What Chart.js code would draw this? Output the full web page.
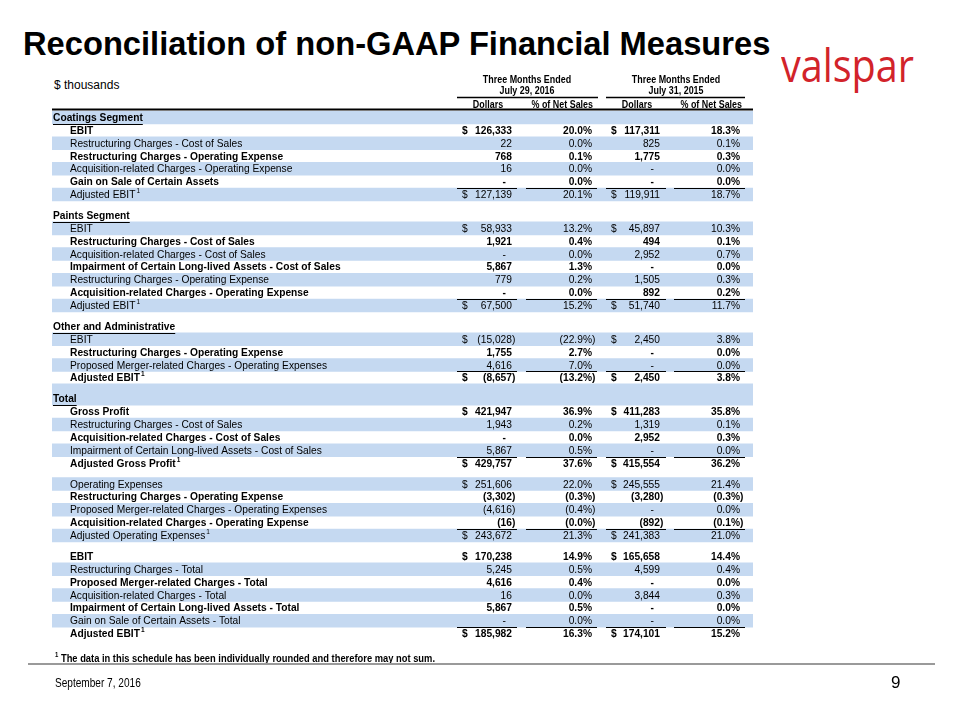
<!DOCTYPE html>
<html>
<head>
<meta charset="utf-8">
<script src="https://cdn.jsdelivr.net/npm/chart.js@4.4.0/dist/chart.umd.min.js"></script>
<style>
  html, body { margin: 0; padding: 0; background: #fff; }
  body { width: 960px; height: 720px; position: relative; overflow: hidden;
         font-family: "Liberation Sans", Arial, sans-serif; color: #000; }
  #chart { position: absolute; left: 0; top: 0; }
  .title { position: absolute; left: 23px; top: 25px; font-size: 33px; font-weight: bold; white-space: nowrap;
           transform: scaleX(0.99); transform-origin: left top; }
  .logo { position: absolute; left: 781px; top: 33px; font-family: "Open Sans", sans-serif; font-size: 46px;
          color: #d2232a; white-space: nowrap; transform: scaleX(0.86); transform-origin: left top; }
  .units { position: absolute; left: 54px; top: 78px; font-size: 12px; }
  .footnote { position: absolute; left: 55px; top: 651px; font-size: 11px; font-weight: bold; white-space: nowrap;
              transform: scaleX(0.85); transform-origin: left top; }
  .footnote sup { font-size: 7px; }
  .rule { position: absolute; left: 28px; top: 663px; width: 907px; height: 2px; background: #9a9a9a; }
  .date { position: absolute; left: 55px; top: 676px; font-size: 12px; transform: scaleX(0.84); transform-origin: left top; }
  .page { position: absolute; left: 891px; top: 673px; font-size: 17px; }
</style>
</head>
<body>
<div class="title">Reconciliation of non-GAAP Financial Measures</div>
<div class="logo">valspar</div>
<div class="units">$ thousands</div>
<canvas id="chart" width="960" height="720"></canvas>
<div class="footnote"><sup>1</sup> The data in this schedule has been individually rounded and therefore may not sum.</div>
<div class="rule"></div>
<div class="date">September 7, 2016</div>
<div class="page">9</div>
<script>
// table rows (head = section title, first = first line with $, total = adjusted line)
const rowLabels = [
  'Coatings Segment', 'EBIT', 'Restructuring Charges - Cost of Sales', 'Restructuring Charges - Operating Expense',
  'Acquisition-related Charges - Operating Expense', 'Gain on Sale of Certain Assets', 'Adjusted EBIT',
  'Paints Segment', 'EBIT', 'Restructuring Charges - Cost of Sales', 'Acquisition-related Charges - Cost of Sales',
  'Impairment of Certain Long-lived Assets - Cost of Sales', 'Restructuring Charges - Operating Expense',
  'Acquisition-related Charges - Operating Expense', 'Adjusted EBIT',
  'Other and Administrative', 'EBIT', 'Restructuring Charges - Operating Expense',
  'Proposed Merger-related Charges - Operating Expenses', 'Adjusted EBIT',
  'Total', 'Gross Profit', 'Restructuring Charges - Cost of Sales', 'Acquisition-related Charges - Cost of Sales',
  'Impairment of Certain Long-lived Assets - Cost of Sales', 'Adjusted Gross Profit',
  'Operating Expenses', 'Restructuring Charges - Operating Expense', 'Proposed Merger-related Charges - Operating Expenses',
  'Acquisition-related Charges - Operating Expense', 'Adjusted Operating Expenses',
  'EBIT', 'Restructuring Charges - Total', 'Proposed Merger-related Charges - Total', 'Acquisition-related Charges - Total',
  'Impairment of Certain Long-lived Assets - Total', 'Gain on Sale of Certain Assets - Total', 'Adjusted EBIT'
];
const rowKinds = [
  'head', 'first', 'item', 'item', 'item', 'item', 'total',
  'head', 'first', 'item', 'item', 'item', 'item', 'item', 'total',
  'head', 'first', 'item', 'item', 'total',
  'head', 'first', 'item', 'item', 'item', 'total',
  'first', 'item', 'item', 'item', 'total',
  'first', 'item', 'item', 'item', 'item', 'item', 'total'
];
const dollars2016 = [
  null, 126333, 22, 768, 16, 0, 127139,
  null, 58933, 1921, 0, 5867, 779, 0, 67500,
  null, -15028, 1755, 4616, -8657,
  null, 421947, 1943, 0, 5867, 429757,
  251606, -3302, -4616, -16, 243672,
  170238, 5245, 4616, 16, 5867, 0, 185982
];
const pct2016 = [
  null, 20.0, 0.0, 0.1, 0.0, 0.0, 20.1,
  null, 13.2, 0.4, 0.0, 1.3, 0.2, 0.0, 15.2,
  null, -22.9, 2.7, 7.0, -13.2,
  null, 36.9, 0.2, 0.0, 0.5, 37.6,
  22.0, -0.3, -0.4, -0.0, 21.3,
  14.9, 0.5, 0.4, 0.0, 0.5, 0.0, 16.3
];
const dollars2015 = [
  null, 117311, 825, 1775, 0, 0, 119911,
  null, 45897, 494, 2952, 0, 1505, 892, 51740,
  null, 2450, 0, 0, 2450,
  null, 411283, 1319, 2952, 0, 415554,
  245555, -3280, 0, -892, 241383,
  165658, 4599, 0, 3844, 0, 0, 174101
];
const pct2015 = [
  null, 18.3, 0.1, 0.3, 0.0, 0.0, 18.7,
  null, 10.3, 0.1, 0.7, 0.0, 0.3, 0.2, 11.7,
  null, 3.8, 0.0, 0.0, 3.8,
  null, 35.8, 0.1, 0.3, 0.0, 36.2,
  21.4, -0.3, 0.0, -0.1, 21.0,
  14.4, 0.4, 0.0, 0.3, 0.0, 0.0, 15.2
];
const periodTitles = ['Three Months Ended', 'Three Months Ended'];
const periodDates = ['July 29, 2016', 'July 31, 2015'];
const columnTitles = ['Dollars', '% of Net Sales', 'Dollars', '% of Net Sales'];

// layout
const GAP = 0.63;            // blank space after each block, in row units
const TABLE_LEFT = 52, TABLE_RIGHT = 753, TABLE_TOP = 111, TABLE_BOTTOM = 640;
const FONT = '"Liberation Sans", Arial, sans-serif';
const SX = 0.93;             // horizontal squeeze of the table text
const BAND = '#c5d9f1';

// row position on the y scale
const rowPos = [];
let p = 0;
rowKinds.forEach((k, i) => {
  rowPos.push(p);
  p += 1;
  if (k === 'total' && i < rowKinds.length - 1) p += GAP;
});
const yMin = -0.5, yMax = p - 0.5;
const unitPx = (TABLE_BOTTOM - TABLE_TOP) / (yMax - yMin);

const shadedRows = rowLabels.map((_, i) => i).filter(i => i % 2 === 0);
const shadedGaps = shadedRows.filter(i => i > 0 && rowKinds[i] === 'head');

function fmtDollar(v) {
  if (v === 0) return '-';
  const s = Math.abs(v).toLocaleString('en-US');
  return v < 0 ? '(' + s + ')' : s;
}
function fmtPct(v) {
  const s = Math.abs(v).toFixed(1) + '%';
  return (v < 0 || Object.is(v, -0)) ? '(' + s + ')' : s;
}

function squeezed(ctx, text, x, y, align, sx = SX) {
  const w = ctx.measureText(text).width * sx;
  let left = x;
  if (align === 'right') left = x - w;
  if (align === 'center') left = x - w / 2;
  ctx.save();
  ctx.translate(left, y);
  ctx.scale(sx, 1);
  ctx.textAlign = 'left';
  ctx.fillText(text, 0, 0);
  ctx.restore();
  return w;
}

// numbers: digits right aligned, closing bracket hangs out
function drawNumber(ctx, text, right, y) {
  if (text === '-') { squeezed(ctx, text, right - 6, y, 'right'); return; }
  let r = right;
  if (text.endsWith(')')) r += ctx.measureText(')').width * SX;
  squeezed(ctx, text, r, y, 'right');
}

const cols = [
  { sign: 462, num: 512, pct: 592, lineD: [457, 517], lineP: [526, 597] },
  { sign: 611, num: 660, pct: 740, lineD: [606, 666], lineP: [674, 745] }
];

const tablePlugin = {
  id: 'tableText',
  afterDatasetsDraw(chart) {
    const { ctx, scales: { x, y } } = chart;
    ctx.save();
    ctx.fillStyle = '#000';
    ctx.strokeStyle = '#000';
    ctx.textBaseline = 'middle';

    // column headers
    ctx.font = 'bold 10.5px ' + FONT;
    [527, 676].forEach((cx, k) => {
      squeezed(ctx, periodTitles[k], x.getPixelForValue(cx), y.getPixelForValue(-2.92), 'center', 0.85);
      squeezed(ctx, periodDates[k], x.getPixelForValue(cx), y.getPixelForValue(-2.03), 'center', 0.85);
    });
    ctx.lineWidth = 1.5;
    [[457, 598], [606, 745]].forEach(([a, b]) => {
      const ly = y.getPixelForValue(-1.55);
      ctx.beginPath(); ctx.moveTo(x.getPixelForValue(a), ly); ctx.lineTo(x.getPixelForValue(b), ly); ctx.stroke();
    });
    squeezed(ctx, columnTitles[0], x.getPixelForValue(488), y.getPixelForValue(-0.98), 'center', 0.85);
    squeezed(ctx, columnTitles[1], x.getPixelForValue(593), y.getPixelForValue(-0.98), 'right', 0.85);
    squeezed(ctx, columnTitles[2], x.getPixelForValue(637), y.getPixelForValue(-0.98), 'center', 0.85);
    squeezed(ctx, columnTitles[3], x.getPixelForValue(742), y.getPixelForValue(-0.98), 'right', 0.85);
    ctx.lineWidth = 2;
    ctx.beginPath();
    ctx.moveTo(x.getPixelForValue(TABLE_LEFT), y.top - 1.5);
    ctx.lineTo(x.getPixelForValue(TABLE_RIGHT), y.top - 1.5);
    ctx.stroke();

    // rows
    rowLabels.forEach((label, i) => {
      const kind = rowKinds[i];
      const py = y.getPixelForValue(rowPos[i]) + 0.5;
      const bold = kind === 'head' || i % 2 === 1;
      ctx.font = (bold ? 'bold ' : '') + '11px ' + FONT;
      if (kind === 'head') {
        const lx = x.getPixelForValue(53);
        const w = squeezed(ctx, label, lx, py, 'left');
        ctx.lineWidth = 1;
        ctx.beginPath(); ctx.moveTo(lx, Math.round(py + 6) + 0.5); ctx.lineTo(lx + w, Math.round(py + 6) + 0.5); ctx.stroke();
        return;
      }
      const lx = x.getPixelForValue(70);
      const w = squeezed(ctx, label, lx, py, 'left');
      if (kind === 'total') {
        ctx.font = (bold ? 'bold ' : '') + '7px ' + FONT;
        squeezed(ctx, '1', lx + w + 1, py - 4, 'left');
        ctx.font = (bold ? 'bold ' : '') + '11px ' + FONT;
        // single rule above the adjusted line
        const ly = Math.round(y.getPixelForValue(rowPos[i] - 0.5)) + 0.5;
        ctx.lineWidth = 1;
        cols.forEach(c => {
          [c.lineD, c.lineP].forEach(([a, b]) => {
            ctx.beginPath(); ctx.moveTo(x.getPixelForValue(a), ly); ctx.lineTo(x.getPixelForValue(b), ly); ctx.stroke();
          });
        });
      }
      const vals = [[dollars2016[i], pct2016[i]], [dollars2015[i], pct2015[i]]];
      vals.forEach(([d, pc], k) => {
        const c = cols[k];
        if (kind === 'first' || kind === 'total') squeezed(ctx, '$', x.getPixelForValue(c.sign), py, 'left');
        drawNumber(ctx, fmtDollar(d), x.getPixelForValue(c.num), py);
        drawNumber(ctx, fmtPct(pc), x.getPixelForValue(c.pct), py);
      });
    });
    ctx.restore();
  }
};

new Chart(document.getElementById('chart'), {
  type: 'bar',
  data: {
    datasets: [
      {
        data: shadedRows.map(i => ({ x: [TABLE_LEFT, TABLE_RIGHT], y: rowPos[i] })),
        backgroundColor: BAND,
        borderWidth: 0,
        barThickness: unitPx,
        grouped: false
      },
      {
        data: shadedGaps.map(i => ({ x: [TABLE_LEFT, TABLE_RIGHT], y: rowPos[i] - 0.5 - GAP / 2 })),
        backgroundColor: BAND,
        borderWidth: 0,
        barThickness: unitPx * GAP + 1,
        grouped: false
      }
    ]
  },
  options: {
    indexAxis: 'y',
    responsive: false,
    animation: false,
    layout: { padding: { left: TABLE_LEFT, right: 960 - TABLE_RIGHT, top: TABLE_TOP, bottom: 720 - TABLE_BOTTOM } },
    plugins: { legend: { display: false }, tooltip: { enabled: false } },
    scales: {
      x: { type: 'linear', min: TABLE_LEFT, max: TABLE_RIGHT, display: false, offset: false },
      y: { type: 'linear', min: yMin, max: yMax, reverse: true, display: false, offset: false }
    }
  },
  plugins: [tablePlugin]
});
</script>
</body>
</html>
